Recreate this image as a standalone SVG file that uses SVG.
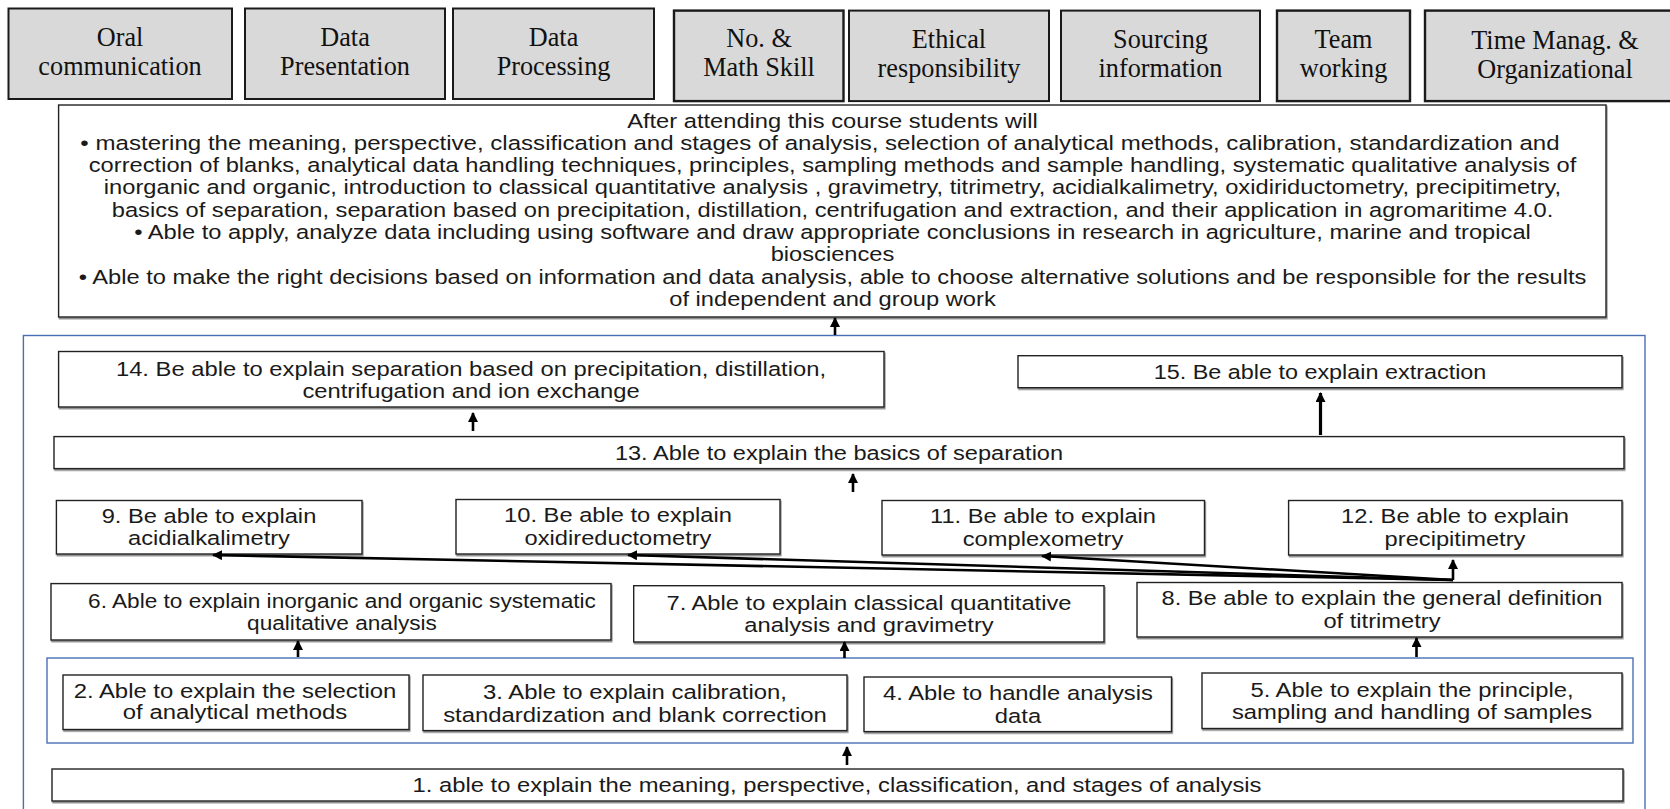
<svg xmlns="http://www.w3.org/2000/svg" width="1670" height="809" viewBox="0 0 1670 809">
<style>
.bg{fill:#fff}
.sk rect{fill:#d9d9d9;stroke:#1a1a1a;stroke-width:2}
.sk text{font-family:"Liberation Serif","Times New Roman",serif;font-size:27.5px;fill:#111;text-anchor:middle}
.nd rect{fill:#fff;stroke:#222;stroke-width:1.4;filter:url(#sh)}
.t{font-family:"Liberation Sans",Arial,sans-serif;font-size:19.5px;fill:#1a1a1a;text-anchor:middle}
.frame{fill:none;stroke:#4a6fb5;stroke-width:1.4}
.c line{stroke:#000;stroke-width:2.6;marker-end:url(#ah)}
</style>
<defs>
<filter id="sh" x="-5%" y="-20%" width="110%" height="150%">
<feDropShadow dx="0.8" dy="1.6" stdDeviation="0.6" flood-color="#666" flood-opacity="0.8"/>
</filter>
<marker id="ah" markerUnits="userSpaceOnUse" markerWidth="11" markerHeight="10" refX="9" refY="5" orient="auto">
<path d="M0,0 L10,5 L0,10 z" fill="#000"/>
</marker>
</defs>
<rect class="bg" x="0" y="0" width="1670" height="809"/>

<g id="skills" class="sk">
<g id="s-oral"><rect x="8.5" y="8.5" width="223.5" height="90.5"/><g transform="translate(120 0) scale(0.955 1)"><text x="0" y="46">Oral</text><text x="0" y="75">communication</text></g></g>
<g id="s-present"><rect x="245" y="8.5" width="200" height="90.5"/><g transform="translate(345 0) scale(0.955 1)"><text x="0" y="46">Data</text><text x="0" y="75">Presentation</text></g></g>
<g id="s-process"><rect x="453" y="8.5" width="201" height="90.5"/><g transform="translate(553.5 0) scale(0.955 1)"><text x="0" y="46">Data</text><text x="0" y="75">Processing</text></g></g>
<g id="s-math"><rect x="674" y="10.6" width="169.5" height="90.5" style="stroke-width:2.4"/><g transform="translate(759 0) scale(0.955 1)"><text x="0" y="47">No. &amp;</text><text x="0" y="76">Math Skill</text></g></g>
<g id="s-ethic"><rect x="849" y="10.6" width="200" height="90.5"/><g transform="translate(949 0) scale(0.955 1)"><text x="0" y="48">Ethical</text><text x="0" y="77">responsibility</text></g></g>
<g id="s-source"><rect x="1061" y="10.6" width="199" height="90.5"/><g transform="translate(1160.5 0) scale(0.955 1)"><text x="0" y="48">Sourcing</text><text x="0" y="77">information</text></g></g>
<g id="s-team"><rect x="1277" y="10.6" width="133" height="90.5" style="stroke-width:2.4"/><g transform="translate(1343.5 0) scale(0.955 1)"><text x="0" y="48">Team</text><text x="0" y="77">working</text></g></g>
<g id="s-time"><rect x="1425" y="10.6" width="262" height="90.5" style="stroke-width:2.4"/><g transform="translate(1555 0) scale(0.955 1)"><text x="0" y="49">Time Manag. &amp;</text><text x="0" y="78">Organizational</text></g></g>
</g>

<rect id="outer-frame" class="frame" x="23.4" y="335.5" width="1621.6" height="490"/>
<rect id="inner-frame" class="frame" x="47" y="658" width="1586" height="85"/>

<g id="outcome" class="nd">
<rect x="58.6" y="105" width="1547.4" height="212"/>
<g transform="translate(820 0) scale(1.235 1)">
<text class="t" x="0" y="150">• mastering the meaning, perspective, classification and stages of analysis, selection of analytical methods, calibration, standardization and</text>
</g>
<g transform="translate(832.5 0) scale(1.215 1)">
<text class="t" x="0" y="128">After attending this course students will</text>
<text class="t" x="0" y="172">correction of blanks, analytical data handling techniques, principles, sampling methods and sample handling, systematic qualitative analysis of</text>
<text class="t" x="0" y="194.5">inorganic and organic, introduction to classical quantitative analysis , gravimetry, titrimetry, acidialkalimetry, oxidiriductometry, precipitimetry,</text>
<text class="t" x="0" y="217">basics of separation, separation based on precipitation, distillation, centrifugation and extraction, and their application in agromaritime 4.0.</text>
<text class="t" x="0" y="239">• Able to apply, analyze data including using software and draw appropriate conclusions in research in agriculture, marine and tropical</text>
<text class="t" x="0" y="261.5">biosciences</text>
<text class="t" x="0" y="284">• Able to make the right decisions based on information and data analysis, able to choose alternative solutions and be responsible for the results</text>
<text class="t" x="0" y="306">of independent and group work</text>
</g>
</g>

<g id="n14" class="nd"><rect x="58.6" y="351.5" width="825.4" height="55.5"/>
<g transform="translate(471 0) scale(1.22 1)"><text class="t" x="0" y="376.5">14. Be able to explain separation based on precipitation, distillation,</text><text class="t" x="0" y="398">centrifugation and ion exchange</text></g></g>
<g id="n15" class="nd"><rect x="1018" y="355.7" width="604" height="32"/>
<g transform="translate(1320 0) scale(1.2 1)"><text class="t" x="0" y="379">15. Be able to explain extraction</text></g></g>
<g id="n13" class="nd"><rect x="54" y="436.6" width="1570" height="32"/>
<g transform="translate(839 0) scale(1.21 1)"><text class="t" x="0" y="459.6">13. Able to explain the basics of separation</text></g></g>
<g id="n9" class="nd"><rect x="56.4" y="500.5" width="305.6" height="53.5"/>
<g transform="translate(209 0) scale(1.215 1)"><text class="t" x="0" y="523.5">9. Be able to explain</text><text class="t" x="0" y="545">acidialkalimetry</text></g></g>
<g id="n10" class="nd"><rect x="456" y="499.5" width="324" height="54.5"/>
<g transform="translate(618 0) scale(1.215 1)"><text class="t" x="0" y="522.5">10. Be able to explain</text><text class="t" x="0" y="545">oxidireductometry</text></g></g>
<g id="n11" class="nd"><rect x="882" y="500.5" width="322.5" height="54.5"/>
<g transform="translate(1043 0) scale(1.215 1)"><text class="t" x="0" y="523.5">11. Be able to explain</text><text class="t" x="0" y="546">complexometry</text></g></g>
<g id="n12" class="nd"><rect x="1288.6" y="500.5" width="333.4" height="54.5"/>
<g transform="translate(1455 0) scale(1.215 1)"><text class="t" x="0" y="523.5">12. Be able to explain</text><text class="t" x="0" y="546">precipitimetry</text></g></g>
<g id="n6" class="nd"><rect x="51" y="583.6" width="560" height="56.4"/>
<g transform="translate(342 0) scale(1.16 1)"><text class="t" x="0" y="607.6">6. Able to explain inorganic and organic systematic</text><text class="t" x="0" y="630">qualitative analysis</text></g></g>
<g id="n7" class="nd"><rect x="633.7" y="585.7" width="470.3" height="56.3"/>
<g transform="translate(869 0) scale(1.218 1)"><text class="t" x="0" y="610">7. Able to explain classical quantitative</text><text class="t" x="0" y="632">analysis and gravimetry</text></g></g>
<g id="n8" class="nd"><rect x="1137" y="582.5" width="485" height="54.5"/>
<g transform="translate(1382 0) scale(1.215 1)"><text class="t" x="0" y="605.5">8. Be able to explain the general definition</text><text class="t" x="0" y="628">of titrimetry</text></g></g>
<g id="n2" class="nd"><rect x="63" y="675" width="346" height="54.5"/>
<g transform="translate(235 0) scale(1.225 1)"><text class="t" x="0" y="698">2. Able to explain the selection</text><text class="t" x="0" y="719.5">of analytical methods</text></g></g>
<g id="n3" class="nd"><rect x="423" y="675" width="424" height="55.6"/>
<g transform="translate(635 0) scale(1.225 1)"><text class="t" x="0" y="699">3. Able to explain calibration,</text><text class="t" x="0" y="721.6">standardization and blank correction</text></g></g>
<g id="n4" class="nd"><rect x="864" y="677" width="307.5" height="54.6"/>
<g transform="translate(1018 0) scale(1.22 1)"><text class="t" x="0" y="700">4. Able to handle analysis</text><text class="t" x="0" y="722.7">data</text></g></g>
<g id="n5" class="nd"><rect x="1202" y="673" width="420" height="55.5"/>
<g transform="translate(1412 0) scale(1.222 1)"><text class="t" x="0" y="697">5. Able to explain the principle,</text><text class="t" x="0" y="719.5">sampling and handling of samples</text></g></g>
<g id="n1" class="nd"><rect x="52" y="769" width="1571" height="32"/>
<g transform="translate(837 0) scale(1.22 1)"><text class="t" x="0" y="792">1. able to explain the meaning, perspective, classification, and stages of analysis</text></g></g>

<g id="connectors" class="c">
<line x1="835" y1="335" x2="835" y2="318"/>
<line x1="473" y1="431" x2="473" y2="413"/>
<line x1="1320.5" y1="435" x2="1320.5" y2="393" style="stroke-width:3.2"/>
<line x1="853" y1="492" x2="853" y2="474"/>
<line x1="1453" y1="580" x2="213" y2="555"/>
<line x1="1453" y1="580" x2="628" y2="555"/>
<line x1="1453" y1="580" x2="1042" y2="556"/>
<line x1="1453" y1="580" x2="1453" y2="560"/>
<line x1="298" y1="657" x2="298" y2="641"/>
<line x1="844.5" y1="658" x2="844.5" y2="642"/>
<line x1="1416.5" y1="657" x2="1416.5" y2="638"/>
<line x1="847" y1="765" x2="847" y2="747"/>
</g>
</svg>
